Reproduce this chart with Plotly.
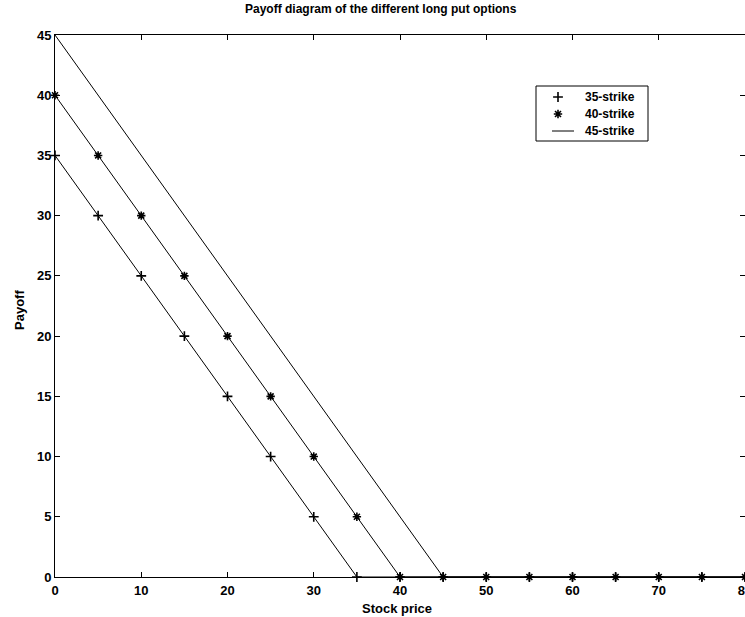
import plotly.graph_objects as go

# Data
stock_price = [0, 5, 10, 15, 20, 25, 30, 35, 40, 45, 50, 55, 60, 65, 70, 75, 80]
payoff_35 = [35, 30, 25, 20, 15, 10, 5, 0, 0, 0, 0, 0, 0, 0, 0, 0, 0]
payoff_40 = [40, 35, 30, 25, 20, 15, 10, 5, 0, 0, 0, 0, 0, 0, 0, 0, 0]
payoff_45 = [45, 40, 35, 30, 25, 20, 15, 10, 5, 0, 0, 0, 0, 0, 0, 0, 0]
series_names = ["35-strike", "40-strike", "45-strike"]
x_ticks = [0, 10, 20, 30, 40, 50, 60, 70, 80]
y_ticks = [0, 5, 10, 15, 20, 25, 30, 35, 40, 45]

FONT = "Liberation Sans, Arial, sans-serif"
INK = "#000000"
FIG_W, FIG_H = 745, 617
L, T, W, H = 55, 35, 690, 542  # plot area in pixels


def px_to_paper(px, py):
    return (px - L) / W, (T + H - py) / H


fig = go.Figure()

# connecting lines
for ys in (payoff_35, payoff_40):
    fig.add_trace(go.Scatter(x=stock_price, y=ys, mode="lines",
                             line=dict(color=INK, width=1), showlegend=False,
                             hoverinfo="skip", cliponaxis=False))

marker_35 = dict(symbol="cross-thin", size=7, color=INK, line=dict(color=INK, width=1.6))
marker_40 = dict(symbol="asterisk-open", size=7, color=INK, line=dict(color=INK, width=1.6))

fig.add_trace(go.Scatter(x=stock_price, y=payoff_35, mode="markers", name=series_names[0],
                         marker=marker_35, cliponaxis=False, showlegend=False))
fig.add_trace(go.Scatter(x=stock_price, y=payoff_40, mode="markers", name=series_names[1],
                         marker=marker_40, cliponaxis=False, showlegend=False))
fig.add_trace(go.Scatter(x=stock_price, y=payoff_45, mode="lines", name=series_names[2],
                         line=dict(color=INK, width=1), cliponaxis=False, showlegend=False))

# ---- legend box drawn in pixel space on an overlay axis pair ----
leg_left, leg_right, leg_top, leg_bottom = 536, 648, 86, 141
leg_rows = [97, 114, 131]
sym_x, line_x0, line_x1, text_x = 558, 552, 574, 583

fig.add_trace(go.Scatter(x=[sym_x], y=[leg_rows[0]], mode="markers", marker=marker_35,
                         xaxis="x2", yaxis="y2", showlegend=False, hoverinfo="skip"))
fig.add_trace(go.Scatter(x=[sym_x], y=[leg_rows[1]], mode="markers", marker=marker_40,
                         xaxis="x2", yaxis="y2", showlegend=False, hoverinfo="skip"))

shapes = [
    dict(type="rect", xref="x2", yref="y2", x0=leg_left, x1=leg_right, y0=leg_top,
         y1=leg_bottom, line=dict(color=INK, width=1), fillcolor="white", layer="below"),
    dict(type="line", xref="x2", yref="y2", x0=line_x0, x1=line_x1, y0=leg_rows[2],
         y1=leg_rows[2], line=dict(color=INK, width=1)),
]

annotations = []
for name, ry in zip(series_names, leg_rows):
    annotations.append(dict(text=name, x=text_x, y=ry, xref="x2", yref="y2",
                            xanchor="left", yanchor="middle", showarrow=False,
                            font=dict(family=FONT, size=12, color=INK, weight="bold")))

axis_common = dict(showline=True, linecolor=INK, linewidth=1, mirror="ticks",
                   ticks="inside", ticklen=5, tickwidth=1, tickcolor=INK,
                   showgrid=False, zeroline=False, automargin=False,
                   tickfont=dict(family=FONT, size=13, color=INK, weight="bold"))

tx, ty = px_to_paper(381, 9)
sx, sy = px_to_paper(397, 608)
yx, yy = px_to_paper(19, 310)

annotations += [
    dict(text="Payoff diagram of the different long put options", x=tx, y=ty,
         xref="paper", yref="paper", xanchor="center", yanchor="middle",
         showarrow=False, font=dict(family=FONT, size=12, color=INK, weight="bold")),
    dict(text="Stock price", x=sx, y=sy, xref="paper", yref="paper",
         xanchor="center", yanchor="middle",
         showarrow=False, font=dict(family=FONT, size=13, color=INK, weight="bold")),
    dict(text="Payoff", x=yx, y=yy, xref="paper", yref="paper", textangle=-90,
         xanchor="center", yanchor="middle", showarrow=False,
         font=dict(family=FONT, size=13, color=INK, weight="bold")),
]

# overlay axes map plot area to pixel coordinates
hidden = dict(visible=False, showgrid=False, zeroline=False, fixedrange=True)

fig.update_layout(
    width=FIG_W, height=FIG_H,
    margin=dict(l=L, r=FIG_W - L - W, t=T, b=FIG_H - T - H),
    paper_bgcolor="white", plot_bgcolor="white",
    font=dict(family=FONT, color=INK),
    showlegend=False,
    xaxis=dict(range=[0, 80], tickvals=x_ticks, ticklabeloverflow="allow",
               ticklabelstandoff=1, **axis_common),
    yaxis=dict(range=[0, 45], tickvals=y_ticks, **axis_common),
    xaxis2=dict(range=[L, L + W], overlaying="x", anchor="y2", **hidden),
    yaxis2=dict(range=[T + H, T], overlaying="y", anchor="x2", **hidden),
    shapes=shapes,
    annotations=annotations,
)

fig.write_html("out.html", config={"displayModeBar": False},
               post_script="document.body.style.margin='0';document.body.style.overflow='hidden';")
